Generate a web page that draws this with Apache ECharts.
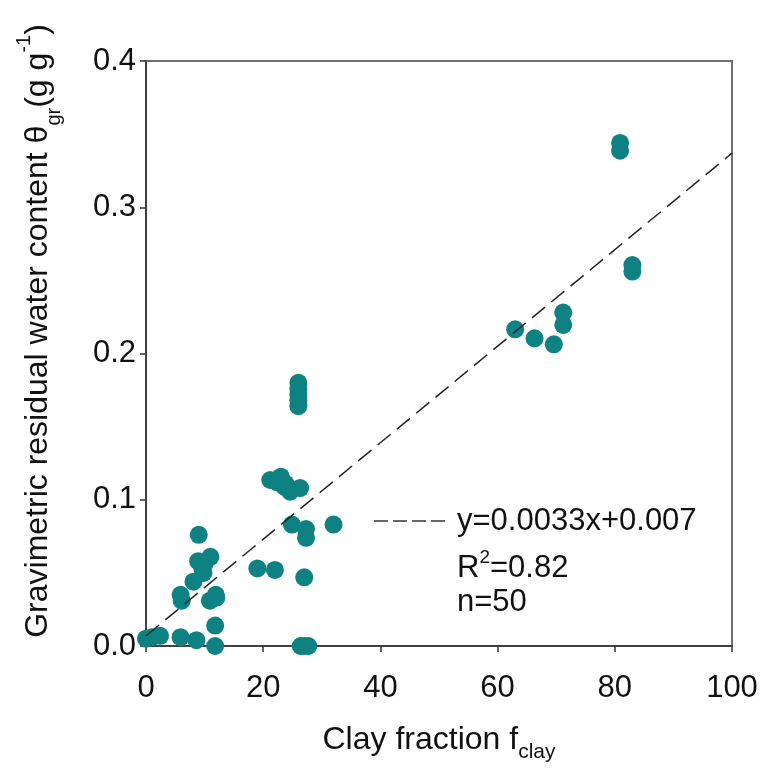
<!DOCTYPE html>
<html>
<head>
<meta charset="utf-8">
<script src="https://cdn.jsdelivr.net/npm/echarts@6/dist/echarts.min.js"></script>
<style>html,body{margin:0;padding:0;background:#fff;}#c{width:763px;height:772px;}</style>
</head>
<body>
<div id="c"></div>
<script>
var clayFraction = [0.0, 1.0, 2.4, 5.9, 8.6, 11.8, 11.8, 5.9, 6.1, 10.9, 11.9, 8.1, 9.8, 9.6, 8.9, 11.0, 9.0,
  19.0, 22.0, 27.0, 24.9, 27.3, 27.3, 32.0, 21.2, 22.3, 23.0, 23.6, 24.6, 26.3,
  26.4, 27.0, 27.7, 26.0, 26.0, 26.0, 26.0, 63.0, 66.3, 69.6, 71.2, 71.2, 80.9, 80.9, 83.0, 83.0,
  10.0, 23.8, 12.0, 26.0];
var residualWater = [0.005, 0.006, 0.007, 0.006, 0.004, 0.000, 0.014, 0.035, 0.031, 0.031, 0.035, 0.044, 0.050, 0.053, 0.058, 0.061, 0.076,
  0.053, 0.052, 0.047, 0.083, 0.080, 0.074, 0.083, 0.1135, 0.112, 0.1158, 0.109, 0.1055, 0.108,
  0.000, 0.000, 0.000, 0.180, 0.176, 0.172, 0.164, 0.2165, 0.2104, 0.2063, 0.228, 0.2195, 0.344, 0.3387, 0.2605, 0.256,
  0.056, 0.111, 0.033, 0.168];
var fitX = [0, 100];
var fitY = [0.007, 0.337];
var xTicks = [0, 20, 40, 60, 80, 100];
var yTicks = ['0.0', '0.1', '0.2', '0.3', '0.4'];

var points = clayFraction.map(function (x, i) { return [x, residualWater[i]]; });
var fitLine = fitX.map(function (x, i) { return [x, fitY[i]]; });

var FONT = 'Liberation Sans, Arial, sans-serif';
var chart = echarts.init(document.getElementById('c'), null, {renderer: 'canvas'});
chart.setOption({
  backgroundColor: '#fff',
  animation: false,
  grid: {left: 146, right: 31, top: 61, bottom: 126, show: true, borderColor: '#6e6e6e', borderWidth: 2},
  xAxis: {
    type: 'value', min: 0, max: 100, interval: 20,
    axisLine: {show: true, onZero: false, lineStyle: {color: '#333', width: 1.5}},
    axisTick: {show: true, length: 6, lineStyle: {color: '#333', width: 1.5}},
    axisLabel: {margin: 27, fontSize: 31, fontFamily: FONT, color: '#111',
      formatter: function (v) { return xTicks.indexOf(v) >= 0 ? String(v) : ''; }},
    splitLine: {show: false}
  },
  yAxis: {
    type: 'value', min: 0, max: 0.4, interval: 0.1,
    axisLine: {show: true, onZero: false, lineStyle: {color: '#333', width: 1.5}},
    axisTick: {show: true, length: 6, lineStyle: {color: '#333', width: 1.5}},
    axisLabel: {margin: 10, fontSize: 31, fontFamily: FONT, color: '#111',
      formatter: function (v) { return yTicks[Math.round(v * 10)]; }},
    splitLine: {show: false}
  },
  series: [
    {
      type: 'line', data: fitLine, symbol: 'none', silent: true, z: 3,
      lineStyle: {color: '#222', width: 1.5, type: [17, 8]}
    },
    {
      type: 'scatter', data: points, symbol: 'circle', symbolSize: 18, clip: false, z: 2,
      itemStyle: {color: '#0e8282', opacity: 1}
    }
  ],
  graphic: [
    {type: 'line', shape: {x1: 374, y1: 521, x2: 449, y2: 521}, style: {stroke: '#333', lineWidth: 1.5, lineDash: [14, 5]}},
    {type: 'text', x: 457, y: 521, style: {text: 'y=0.0033x+0.007', font: '31px ' + FONT, fill: '#111', verticalAlign: 'middle', align: 'left'}},
    {type: 'text', x: 457, y: 566, style: {text: '{m|R}{sup|2}{m|=0.82}', fill: '#111', verticalAlign: 'middle', align: 'left',
      rich: {m: {fontSize: 31, fontFamily: FONT, lineHeight: 36, verticalAlign: 'bottom', fill: '#111'},
             sup: {fontSize: 19, fontFamily: FONT, lineHeight: 19, verticalAlign: 'top', fill: '#111'}}}},
    {type: 'text', x: 457, y: 602, style: {text: 'n=50', font: '31px ' + FONT, fill: '#111', verticalAlign: 'middle', align: 'left'}},
    {type: 'text', x: 439, y: 742, style: {text: '{m|Clay fraction f}{sub|clay}', fill: '#111', verticalAlign: 'middle', align: 'center',
      rich: {m: {fontSize: 32, fontFamily: FONT, lineHeight: 36, verticalAlign: 'top', fill: '#111'},
             sub: {fontSize: 21, fontFamily: FONT, lineHeight: 21, verticalAlign: 'bottom', padding: [0, 0, -3, 0], fill: '#111'}}}},
    {type: 'text', x: 38, y: 331, rotation: Math.PI / 2,
      style: {text: '{m|Gravimetric residual water content θ}{sub|gr}{m|(g g}{sup|-1}{m|)}', fill: '#111', verticalAlign: 'middle', align: 'center',
      rich: {m: {fontSize: 32, fontFamily: FONT, lineHeight: 36, verticalAlign: 'middle', fill: '#111'},
             sub: {fontSize: 20, fontFamily: FONT, lineHeight: 20, verticalAlign: 'bottom', padding: [0, 0, -8, 0], fill: '#111'},
             sup: {fontSize: 20, fontFamily: FONT, lineHeight: 20, verticalAlign: 'top', padding: [-6, 0, 0, 0], fill: '#111'}}}}
  ]
});
</script>
</body>
</html>
